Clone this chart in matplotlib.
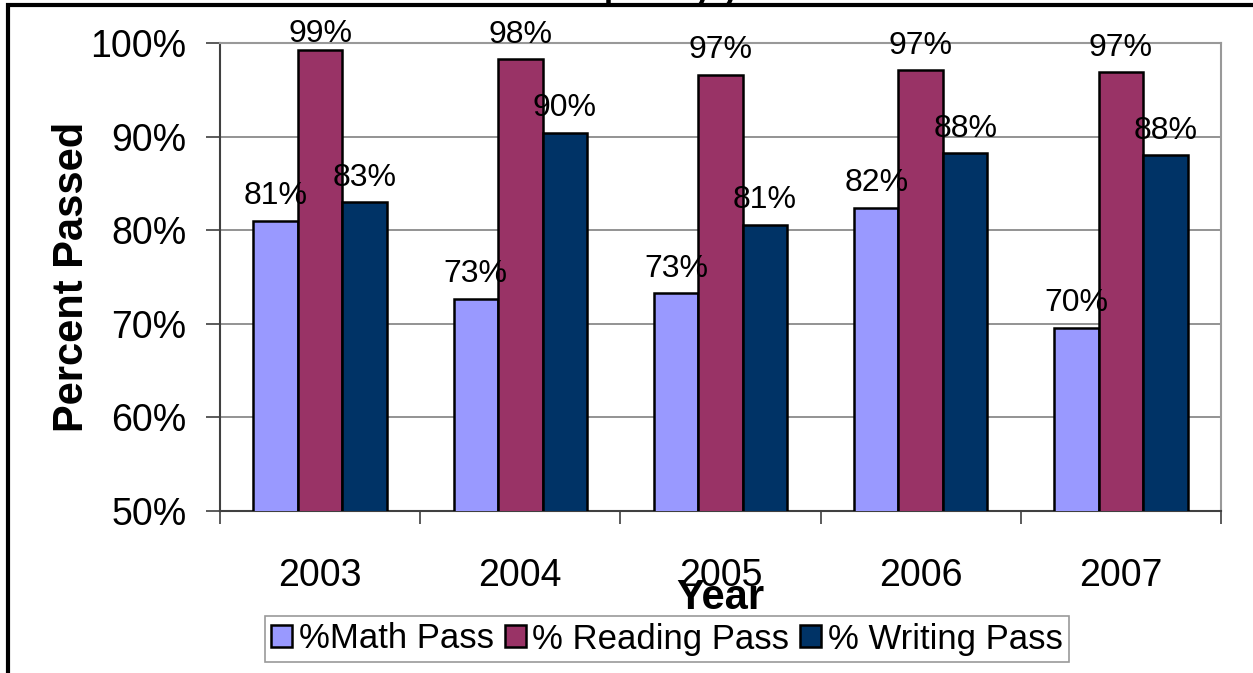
import numpy as np
import matplotlib
matplotlib.use("Agg")
import matplotlib.pyplot as plt
from matplotlib.patches import Rectangle

plt.rcParams['font.family'] = ['Liberation Sans', 'DejaVu Sans']

# data
years = ['2003', '2004', '2005', '2006', '2007']
math_pass = [81.0, 72.7, 73.3, 82.4, 69.6]
reading_pass = [99.3, 98.3, 96.6, 97.1, 96.9]
writing_pass = [83.0, 90.4, 80.6, 88.2, 88.0]
series_names = ['%Math Pass', '% Reading Pass', '% Writing Pass']
colors = ['#9999FF', '#993366', '#003366']

fig = plt.figure(figsize=(12.53, 6.73), dpi=100)
ax = fig.add_axes([220/1253, 1-511/673, 1001/1253, 468/673])

x = np.arange(len(years))
w = 0.222
all_series = [math_pass, reading_pass, writing_pass]
for i, vals in enumerate(all_series):
    bars = ax.bar(x + (i-1)*w, vals, w, bottom=0, color=colors[i],
                  edgecolor='black', linewidth=1.8, label=series_names[i], zorder=3)
    for b, v in zip(bars, vals):
        # excel keeps labels just inside the top of the chart
        ty = min(v + 1.75, 100.15)
        ax.text(b.get_x()+b.get_width()/2, ty, f"{round(v):d}%",
                ha='center', va='baseline', fontsize=23, zorder=5, clip_on=False)

ax.set_ylim(50, 100)
ax.set_xlim(-0.5, 4.5)
ax.set_yticks(np.arange(50, 101, 10))
ax.set_yticklabels([f"{t}%" for t in range(50, 101, 10)], fontsize=27)
ax.set_xticks(x)
ax.set_xticklabels(years, fontsize=27)
ax.tick_params(axis='x', which='major', length=0, pad=34)
ax.set_xticks(np.arange(-0.5, 5, 1), minor=True)
ax.tick_params(axis='x', which='minor', length=9, width=1.2, color='#404040')
ax.tick_params(axis='y', length=10, width=1.2, color='#404040', pad=14)

ax.grid(axis='y', color='#808080', linewidth=1.2, zorder=0)
ax.set_axisbelow(True)
for s in ['top', 'right']:
    ax.spines[s].set_color('#999999')
    ax.spines[s].set_linewidth(1.5)
ax.spines['left'].set_color('#404040')
ax.spines['bottom'].set_color('#404040')
ax.spines['left'].set_linewidth(1.5)
ax.spines['bottom'].set_linewidth(1.5)

ax.set_ylabel('Percent Passed', fontsize=30, fontweight='bold', labelpad=-1)
ax.set_xlabel('Year', fontsize=30, fontweight='bold', labelpad=-12)

leg = fig.legend(loc='center', bbox_to_anchor=(667/1253, 1-639/673), ncol=3,
                 fontsize=25, frameon=True, fancybox=False, handlelength=0.6,
                 handleheight=0.6, handletextpad=0.2, columnspacing=0.3,
                 borderpad=0.2, borderaxespad=0)
leg.get_frame().set_edgecolor('#808080')
leg.get_frame().set_linewidth(1.2)

# title mostly cut off at top of the image
fig.text(790/1253, 1.0, 'TAKS Results for Campus by year', ha='right', va='baseline',
         fontsize=24, fontweight='bold')

# outer border of the chart area, cut off on the right and bottom
fig.patches.append(Rectangle((8/1253, -0.1), 1.2, 1.1 - 5/673, transform=fig.transFigure,
                             fill=False, edgecolor='black', linewidth=3))

fig.savefig('out.png', dpi=100)
